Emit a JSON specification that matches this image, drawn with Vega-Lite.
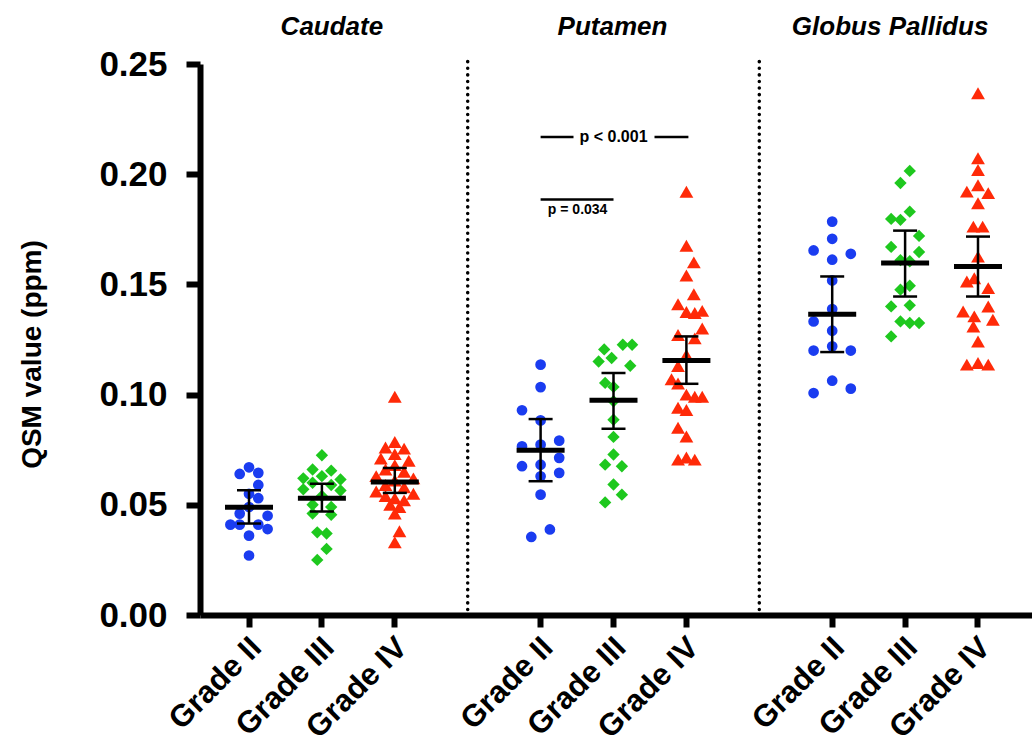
{
  "$schema": "https://vega.github.io/schema/vega-lite/v6.json",
  "width": 832,
  "height": 551,
  "autosize": {"type": "none"},
  "padding": {"left": 200, "top": 64, "right": 0, "bottom": 141},
  "background": "white",
  "config": {
    "view": {"stroke": null},
    "font": "Liberation Sans",
    "axis": {"grid": false, "domainColor": "black", "domainWidth": 6, "tickColor": "black", "tickWidth": 6, "labelColor": "black", "labelFontWeight": "bold", "titleColor": "black", "titleFontWeight": "bold"},
    "axisX": {"labelAngle": -45, "labelFontSize": 31, "labelPadding": 5, "labelOffset": -3, "tickSize": 12, "labelFlush": false},
    "axisY": {"labelFontSize": 35, "labelPadding": 19, "tickSize": 14, "titleFontSize": 28, "titleX": -154, "titleY": 290}
  },
  "datasets": {
    "pts": [
      {"cat": "C2", "g": "II", "v": 0.067, "lane": 0},
      {"cat": "C2", "g": "II", "v": 0.064, "lane": -1},
      {"cat": "C2", "g": "II", "v": 0.0645, "lane": 1},
      {"cat": "C2", "g": "II", "v": 0.059, "lane": 1},
      {"cat": "C2", "g": "II", "v": 0.055, "lane": 0},
      {"cat": "C2", "g": "II", "v": 0.053, "lane": 1},
      {"cat": "C2", "g": "II", "v": 0.049, "lane": 0},
      {"cat": "C2", "g": "II", "v": 0.046, "lane": -1},
      {"cat": "C2", "g": "II", "v": 0.045, "lane": 2},
      {"cat": "C2", "g": "II", "v": 0.041, "lane": -2},
      {"cat": "C2", "g": "II", "v": 0.041, "lane": -1},
      {"cat": "C2", "g": "II", "v": 0.041, "lane": 1},
      {"cat": "C2", "g": "II", "v": 0.039, "lane": 2},
      {"cat": "C2", "g": "II", "v": 0.036, "lane": 0},
      {"cat": "C2", "g": "II", "v": 0.027, "lane": 0},
      {"cat": "C3", "g": "III", "v": 0.0725, "lane": 0},
      {"cat": "C3", "g": "III", "v": 0.066, "lane": -1},
      {"cat": "C3", "g": "III", "v": 0.0655, "lane": 1},
      {"cat": "C3", "g": "III", "v": 0.063, "lane": 0},
      {"cat": "C3", "g": "III", "v": 0.062, "lane": -2},
      {"cat": "C3", "g": "III", "v": 0.0615, "lane": 2},
      {"cat": "C3", "g": "III", "v": 0.06, "lane": -1},
      {"cat": "C3", "g": "III", "v": 0.059, "lane": 1},
      {"cat": "C3", "g": "III", "v": 0.057, "lane": -2},
      {"cat": "C3", "g": "III", "v": 0.0565, "lane": 2},
      {"cat": "C3", "g": "III", "v": 0.054, "lane": 0},
      {"cat": "C3", "g": "III", "v": 0.05, "lane": -1},
      {"cat": "C3", "g": "III", "v": 0.049, "lane": 1},
      {"cat": "C3", "g": "III", "v": 0.046, "lane": -1},
      {"cat": "C3", "g": "III", "v": 0.0455, "lane": 1},
      {"cat": "C3", "g": "III", "v": 0.0375, "lane": -0.5},
      {"cat": "C3", "g": "III", "v": 0.037, "lane": 0.5},
      {"cat": "C3", "g": "III", "v": 0.03, "lane": 0.5},
      {"cat": "C3", "g": "III", "v": 0.025, "lane": -0.5},
      {"cat": "C4", "g": "IV", "v": 0.099, "lane": 0},
      {"cat": "C4", "g": "IV", "v": 0.0785, "lane": 0},
      {"cat": "C4", "g": "IV", "v": 0.076, "lane": -1},
      {"cat": "C4", "g": "IV", "v": 0.0755, "lane": 1},
      {"cat": "C4", "g": "IV", "v": 0.073, "lane": 0},
      {"cat": "C4", "g": "IV", "v": 0.071, "lane": -1.5},
      {"cat": "C4", "g": "IV", "v": 0.07, "lane": 1.5},
      {"cat": "C4", "g": "IV", "v": 0.068, "lane": 0},
      {"cat": "C4", "g": "IV", "v": 0.066, "lane": -1},
      {"cat": "C4", "g": "IV", "v": 0.065, "lane": 1},
      {"cat": "C4", "g": "IV", "v": 0.063, "lane": -2},
      {"cat": "C4", "g": "IV", "v": 0.062, "lane": 2},
      {"cat": "C4", "g": "IV", "v": 0.061, "lane": 0},
      {"cat": "C4", "g": "IV", "v": 0.059, "lane": -1},
      {"cat": "C4", "g": "IV", "v": 0.058, "lane": 1},
      {"cat": "C4", "g": "IV", "v": 0.056, "lane": -2},
      {"cat": "C4", "g": "IV", "v": 0.055, "lane": 2},
      {"cat": "C4", "g": "IV", "v": 0.054, "lane": -1},
      {"cat": "C4", "g": "IV", "v": 0.053, "lane": 0},
      {"cat": "C4", "g": "IV", "v": 0.052, "lane": 1},
      {"cat": "C4", "g": "IV", "v": 0.05, "lane": -0.5},
      {"cat": "C4", "g": "IV", "v": 0.049, "lane": 0.5},
      {"cat": "C4", "g": "IV", "v": 0.046, "lane": 0},
      {"cat": "C4", "g": "IV", "v": 0.038, "lane": 0.5},
      {"cat": "C4", "g": "IV", "v": 0.033, "lane": 0},
      {"cat": "P2", "g": "II", "v": 0.1136, "lane": 0},
      {"cat": "P2", "g": "II", "v": 0.1034, "lane": 0},
      {"cat": "P2", "g": "II", "v": 0.0929, "lane": -2},
      {"cat": "P2", "g": "II", "v": 0.0883, "lane": 0},
      {"cat": "P2", "g": "II", "v": 0.0791, "lane": 2},
      {"cat": "P2", "g": "II", "v": 0.0765, "lane": -2},
      {"cat": "P2", "g": "II", "v": 0.0773, "lane": 0},
      {"cat": "P2", "g": "II", "v": 0.0713, "lane": 2},
      {"cat": "P2", "g": "II", "v": 0.0675, "lane": -2},
      {"cat": "P2", "g": "II", "v": 0.0682, "lane": 0},
      {"cat": "P2", "g": "II", "v": 0.0645, "lane": 2},
      {"cat": "P2", "g": "II", "v": 0.0629, "lane": 0},
      {"cat": "P2", "g": "II", "v": 0.0546, "lane": 0},
      {"cat": "P2", "g": "II", "v": 0.0388, "lane": 1},
      {"cat": "P2", "g": "II", "v": 0.0354, "lane": -1},
      {"cat": "P3", "g": "III", "v": 0.1205, "lane": -1},
      {"cat": "P3", "g": "III", "v": 0.1226, "lane": 1},
      {"cat": "P3", "g": "III", "v": 0.1226, "lane": 2},
      {"cat": "P3", "g": "III", "v": 0.115, "lane": -1.6},
      {"cat": "P3", "g": "III", "v": 0.1166, "lane": -0.2},
      {"cat": "P3", "g": "III", "v": 0.1131, "lane": 1.8},
      {"cat": "P3", "g": "III", "v": 0.1053, "lane": -0.9},
      {"cat": "P3", "g": "III", "v": 0.1035, "lane": 0},
      {"cat": "P3", "g": "III", "v": 0.097, "lane": 0},
      {"cat": "P3", "g": "III", "v": 0.0886, "lane": 0},
      {"cat": "P3", "g": "III", "v": 0.0808, "lane": 0},
      {"cat": "P3", "g": "III", "v": 0.0728, "lane": 0},
      {"cat": "P3", "g": "III", "v": 0.0682, "lane": -0.9},
      {"cat": "P3", "g": "III", "v": 0.0675, "lane": 0.9},
      {"cat": "P3", "g": "III", "v": 0.0592, "lane": 0},
      {"cat": "P3", "g": "III", "v": 0.0546, "lane": 0.9},
      {"cat": "P3", "g": "III", "v": 0.0511, "lane": -0.9},
      {"cat": "P4", "g": "IV", "v": 0.192, "lane": 0},
      {"cat": "P4", "g": "IV", "v": 0.1675, "lane": 0},
      {"cat": "P4", "g": "IV", "v": 0.16, "lane": 0.8},
      {"cat": "P4", "g": "IV", "v": 0.154, "lane": 0},
      {"cat": "P4", "g": "IV", "v": 0.1455, "lane": 0.8},
      {"cat": "P4", "g": "IV", "v": 0.141, "lane": -0.9},
      {"cat": "P4", "g": "IV", "v": 0.1375, "lane": 0},
      {"cat": "P4", "g": "IV", "v": 0.137, "lane": 0.9},
      {"cat": "P4", "g": "IV", "v": 0.138, "lane": 1.7},
      {"cat": "P4", "g": "IV", "v": 0.13, "lane": 1.7},
      {"cat": "P4", "g": "IV", "v": 0.127, "lane": -0.9},
      {"cat": "P4", "g": "IV", "v": 0.1255, "lane": 0.9},
      {"cat": "P4", "g": "IV", "v": 0.118, "lane": 0},
      {"cat": "P4", "g": "IV", "v": 0.113, "lane": -0.9},
      {"cat": "P4", "g": "IV", "v": 0.107, "lane": -1.6},
      {"cat": "P4", "g": "IV", "v": 0.105, "lane": -0.9},
      {"cat": "P4", "g": "IV", "v": 0.1, "lane": 0},
      {"cat": "P4", "g": "IV", "v": 0.099, "lane": 0.9},
      {"cat": "P4", "g": "IV", "v": 0.099, "lane": 1.7},
      {"cat": "P4", "g": "IV", "v": 0.094, "lane": -0.9},
      {"cat": "P4", "g": "IV", "v": 0.093, "lane": 0},
      {"cat": "P4", "g": "IV", "v": 0.085, "lane": -0.9},
      {"cat": "P4", "g": "IV", "v": 0.081, "lane": 0},
      {"cat": "P4", "g": "IV", "v": 0.0705, "lane": -0.9},
      {"cat": "P4", "g": "IV", "v": 0.0715, "lane": 0},
      {"cat": "P4", "g": "IV", "v": 0.0705, "lane": 0.9},
      {"cat": "G2", "g": "II", "v": 0.1785, "lane": 0},
      {"cat": "G2", "g": "II", "v": 0.1707, "lane": 0},
      {"cat": "G2", "g": "II", "v": 0.1654, "lane": -2},
      {"cat": "G2", "g": "II", "v": 0.1639, "lane": 2},
      {"cat": "G2", "g": "II", "v": 0.1612, "lane": 0},
      {"cat": "G2", "g": "II", "v": 0.1518, "lane": 0},
      {"cat": "G2", "g": "II", "v": 0.1388, "lane": 0},
      {"cat": "G2", "g": "II", "v": 0.1332, "lane": -2},
      {"cat": "G2", "g": "II", "v": 0.129, "lane": 0},
      {"cat": "G2", "g": "II", "v": 0.1219, "lane": 0},
      {"cat": "G2", "g": "II", "v": 0.12, "lane": -2},
      {"cat": "G2", "g": "II", "v": 0.12, "lane": 2},
      {"cat": "G2", "g": "II", "v": 0.1063, "lane": 0},
      {"cat": "G2", "g": "II", "v": 0.1027, "lane": 2},
      {"cat": "G2", "g": "II", "v": 0.1007, "lane": -2},
      {"cat": "G3", "g": "III", "v": 0.2015, "lane": 0.5},
      {"cat": "G3", "g": "III", "v": 0.196, "lane": -0.5},
      {"cat": "G3", "g": "III", "v": 0.183, "lane": 0.5},
      {"cat": "G3", "g": "III", "v": 0.1797, "lane": -1.5},
      {"cat": "G3", "g": "III", "v": 0.1793, "lane": -0.5},
      {"cat": "G3", "g": "III", "v": 0.172, "lane": 1.5},
      {"cat": "G3", "g": "III", "v": 0.167, "lane": -1.5},
      {"cat": "G3", "g": "III", "v": 0.1647, "lane": 1.5},
      {"cat": "G3", "g": "III", "v": 0.161, "lane": -0.5},
      {"cat": "G3", "g": "III", "v": 0.1605, "lane": 0.5},
      {"cat": "G3", "g": "III", "v": 0.1494, "lane": 0.5},
      {"cat": "G3", "g": "III", "v": 0.1476, "lane": -0.5},
      {"cat": "G3", "g": "III", "v": 0.14, "lane": -1.5},
      {"cat": "G3", "g": "III", "v": 0.1405, "lane": 0.5},
      {"cat": "G3", "g": "III", "v": 0.1332, "lane": -0.5},
      {"cat": "G3", "g": "III", "v": 0.1325, "lane": 0.5},
      {"cat": "G3", "g": "III", "v": 0.1325, "lane": 1.5},
      {"cat": "G3", "g": "III", "v": 0.1264, "lane": -1.5},
      {"cat": "G4", "g": "IV", "v": 0.2367, "lane": 0},
      {"cat": "G4", "g": "IV", "v": 0.2072, "lane": 0},
      {"cat": "G4", "g": "IV", "v": 0.2019, "lane": 0},
      {"cat": "G4", "g": "IV", "v": 0.195, "lane": 0},
      {"cat": "G4", "g": "IV", "v": 0.1921, "lane": -1.2},
      {"cat": "G4", "g": "IV", "v": 0.1914, "lane": 1.1},
      {"cat": "G4", "g": "IV", "v": 0.1868, "lane": 0},
      {"cat": "G4", "g": "IV", "v": 0.1762, "lane": -0.5},
      {"cat": "G4", "g": "IV", "v": 0.1762, "lane": 0.5},
      {"cat": "G4", "g": "IV", "v": 0.1626, "lane": 0},
      {"cat": "G4", "g": "IV", "v": 0.1528, "lane": -0.4},
      {"cat": "G4", "g": "IV", "v": 0.1513, "lane": -1.2},
      {"cat": "G4", "g": "IV", "v": 0.1483, "lane": 1.1},
      {"cat": "G4", "g": "IV", "v": 0.14, "lane": 1.1},
      {"cat": "G4", "g": "IV", "v": 0.1377, "lane": -1.6},
      {"cat": "G4", "g": "IV", "v": 0.1355, "lane": -0.4},
      {"cat": "G4", "g": "IV", "v": 0.134, "lane": 1.6},
      {"cat": "G4", "g": "IV", "v": 0.1309, "lane": -0.5},
      {"cat": "G4", "g": "IV", "v": 0.1241, "lane": 0},
      {"cat": "G4", "g": "IV", "v": 0.1136, "lane": -1.2},
      {"cat": "G4", "g": "IV", "v": 0.1143, "lane": 0},
      {"cat": "G4", "g": "IV", "v": 0.1136, "lane": 1.1}
    ],
    "summ": [
      {"cat": "C2", "mean": 0.0489, "lo": 0.0415, "hi": 0.0566},
      {"cat": "C3", "mean": 0.053, "lo": 0.047, "hi": 0.0595},
      {"cat": "C4", "mean": 0.0604, "lo": 0.0554, "hi": 0.0667},
      {"cat": "P2", "mean": 0.0747, "lo": 0.0607, "hi": 0.0889},
      {"cat": "P3", "mean": 0.0974, "lo": 0.0845, "hi": 0.1098},
      {"cat": "P4", "mean": 0.1155, "lo": 0.1049, "hi": 0.1264},
      {"cat": "G2", "mean": 0.1365, "lo": 0.1193, "hi": 0.1536},
      {"cat": "G3", "mean": 0.1597, "lo": 0.1445, "hi": 0.1744},
      {"cat": "G4", "mean": 0.1581, "lo": 0.1445, "hi": 0.1717}
    ]
  },
  "layer": [
    {
      "data": {"name": "pts"},
      "mark": {"type": "point", "filled": true, "opacity": 1, "strokeWidth": 0},
      "encoding": {
        "x": {"field": "cat", "type": "nominal", "scale": {"domain": ["C2","C3","C4","s1","P2","P3","P4","s2","G2","G3","G4"], "paddingInner": 0, "paddingOuter": 0.2065, "align": 0.417},
          "axis": {"values": ["C2","C3","C4","P2","P3","P4","G2","G3","G4"], "labelExpr": "slice(datum.value,1)=='2' ? 'Grade II' : slice(datum.value,1)=='3' ? 'Grade III' : 'Grade IV'", "title": null}},
        "xOffset": {"field": "lane", "type": "quantitative", "scale": {"domain": [-2, 2], "range": [17.85, 55.05]}},
        "y": {"field": "v", "type": "quantitative", "scale": {"domain": [0, 0.25], "nice": false, "zero": true},
          "axis": {"values": [0, 0.05, 0.1, 0.15, 0.2, 0.25], "format": ".2f", "title": "QSM value (ppm)"}},
        "shape": {"field": "g", "type": "nominal", "scale": {"domain": ["II","III","IV"], "range": ["circle","diamond","triangle-up"]}, "legend": null},
        "color": {"field": "g", "type": "nominal", "scale": {"domain": ["II","III","IV"], "range": ["#1a3cf0","#1ec81e","#ff2a08"]}, "legend": null},
        "size": {"field": "g", "type": "nominal", "scale": {"domain": ["II","III","IV"], "range": [115, 190, 200]}, "legend": null}
      }
    },
    {
      "data": {"values": [{"cat": "s1", "v": 0.0025, "b": 0.2527}, {"cat": "s2", "v": 0.0025, "b": 0.2527}]},
      "mark": {"type": "rule", "color": "black", "strokeWidth": 3.5, "strokeCap": "round", "strokeDash": [0.1, 6.5]},
      "encoding": {
        "x": {"field": "cat", "type": "nominal"},
        "y": {"field": "v", "type": "quantitative"},
        "y2": {"field": "b"}
      }
    },
    {
      "data": {"name": "summ"},
      "mark": {"type": "rule", "color": "black", "strokeWidth": 2.5},
      "encoding": {
        "x": {"field": "cat", "type": "nominal"},
        "y": {"field": "lo", "type": "quantitative"},
        "y2": {"field": "hi"}
      }
    },
    {
      "data": {"name": "summ"},
      "mark": {"type": "tick", "color": "black", "size": 24, "thickness": 2.5, "opacity": 1},
      "encoding": {
        "x": {"field": "cat", "type": "nominal"},
        "y": {"field": "lo", "type": "quantitative"}
      }
    },
    {
      "data": {"name": "summ"},
      "mark": {"type": "tick", "color": "black", "size": 24, "thickness": 2.5, "opacity": 1},
      "encoding": {
        "x": {"field": "cat", "type": "nominal"},
        "y": {"field": "hi", "type": "quantitative"}
      }
    },
    {
      "data": {"name": "summ"},
      "mark": {"type": "tick", "color": "black", "size": 48, "thickness": 5, "opacity": 1},
      "encoding": {
        "x": {"field": "cat", "type": "nominal"},
        "y": {"field": "mean", "type": "quantitative"}
      }
    },
    {
      "data": {"values": [{"cat": "C3", "label": "Caudate", "v": 0.2668}]},
      "mark": {"type": "text", "fontSize": 26, "fontWeight": "bold", "fontStyle": "italic", "baseline": "middle", "dx": 10, "color": "black"},
      "encoding": {"x": {"field": "cat", "type": "nominal"}, "y": {"field": "v", "type": "quantitative"}, "text": {"field": "label"}}
    },
    {
      "data": {"values": [{"cat": "P3", "label": "Putamen", "v": 0.2668}]},
      "mark": {"type": "text", "fontSize": 26, "fontWeight": "bold", "fontStyle": "italic", "baseline": "middle", "dx": -1, "color": "black"},
      "encoding": {"x": {"field": "cat", "type": "nominal"}, "y": {"field": "v", "type": "quantitative"}, "text": {"field": "label"}}
    },
    {
      "data": {"values": [{"cat": "G3", "label": "Globus Pallidus", "v": 0.2668}]},
      "mark": {"type": "text", "fontSize": 26, "fontWeight": "bold", "fontStyle": "italic", "baseline": "middle", "dx": -15, "color": "black"},
      "encoding": {"x": {"field": "cat", "type": "nominal"}, "y": {"field": "v", "type": "quantitative"}, "text": {"field": "label"}}
    },
    {
      "data": {"values": [{"cat": "P2", "b": "P3", "v": 0.2169}]},
      "mark": {"type": "rule", "color": "black", "strokeWidth": 2.5, "x2Offset": -40},
      "encoding": {"x": {"field": "cat", "type": "nominal"}, "x2": {"field": "b"}, "y": {"field": "v", "type": "quantitative"}}
    },
    {
      "data": {"values": [{"cat": "P3", "b": "P4", "v": 0.2169}]},
      "mark": {"type": "rule", "color": "black", "strokeWidth": 2.5, "xOffset": 41, "x2Offset": 2},
      "encoding": {"x": {"field": "cat", "type": "nominal"}, "x2": {"field": "b"}, "y": {"field": "v", "type": "quantitative"}}
    },
    {
      "data": {"values": [{"cat": "P2", "b": "P3", "v": 0.1885}]},
      "mark": {"type": "rule", "color": "black", "strokeWidth": 2.5},
      "encoding": {"x": {"field": "cat", "type": "nominal"}, "x2": {"field": "b"}, "y": {"field": "v", "type": "quantitative"}}
    },
    {
      "data": {"values": [{"cat": "P3", "label": "p < 0.001", "v": 0.2169}]},
      "mark": {"type": "text", "fontSize": 16, "fontWeight": "bold", "baseline": "middle", "color": "black"},
      "encoding": {"x": {"field": "cat", "type": "nominal"}, "y": {"field": "v", "type": "quantitative"}, "text": {"field": "label"}}
    },
    {
      "data": {"values": [{"cat": "P2", "label": "p = 0.034", "v": 0.1838}]},
      "mark": {"type": "text", "fontSize": 14, "fontWeight": "bold", "baseline": "middle", "dx": 37, "color": "black"},
      "encoding": {"x": {"field": "cat", "type": "nominal"}, "y": {"field": "v", "type": "quantitative"}, "text": {"field": "label"}}
    }
  ]
}
